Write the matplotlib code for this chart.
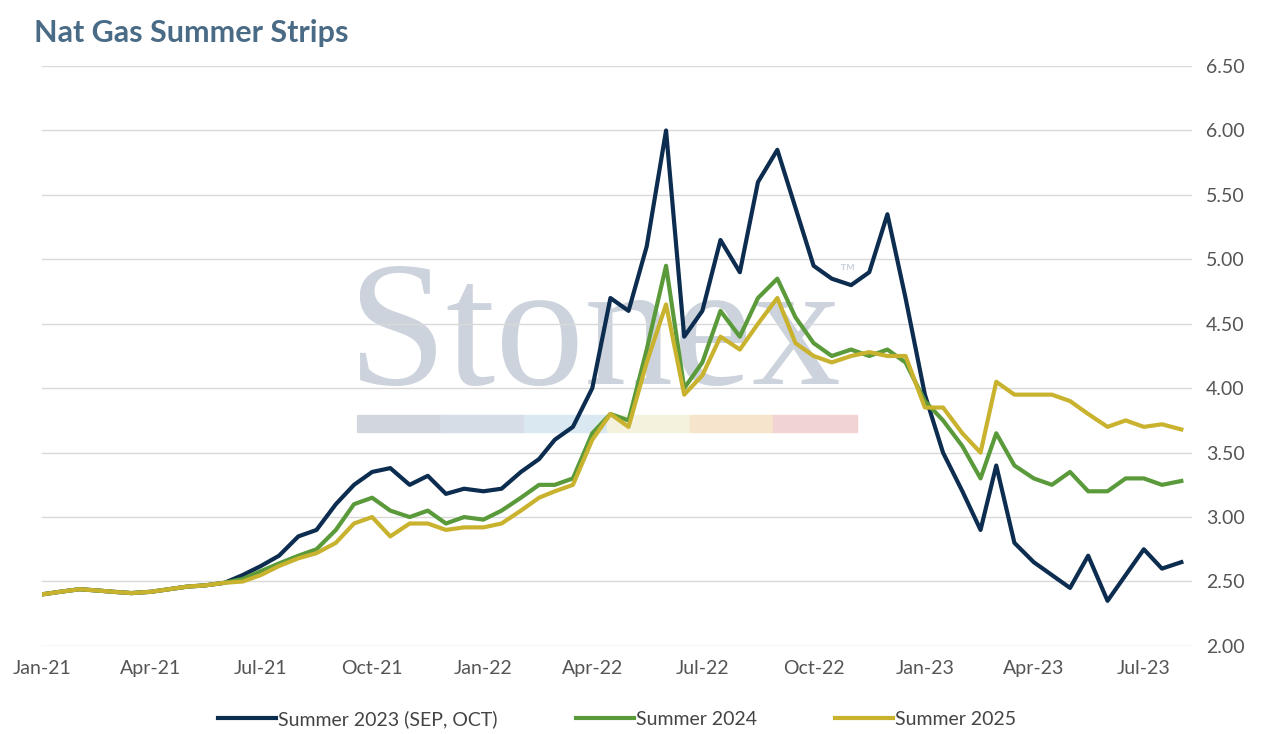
import numpy as np
import pandas as pd
import matplotlib.pyplot as plt
import matplotlib.dates as mdates

plt.rcParams['font.family'] = ['Lato', 'DejaVu Sans']

# semi-monthly sample dates, Jan-21 .. Aug-23
months = np.arange(0, 31.01, 0.5)
dates = [pd.Timestamp("2021-01-01") + pd.DateOffset(months=int(m)) + pd.Timedelta(days=15 if m % 1 else 0) for m in months]

early = [2.40, 2.42, 2.44, 2.43, 2.42, 2.41, 2.42, 2.44, 2.46, 2.47, 2.49]
s2023 = early + [2.55, 2.62, 2.70, 2.85, 2.90, 3.10, 3.25, 3.35, 3.38, 3.25, 3.32, 3.18, 3.22, 3.20, 3.22,
                 3.35, 3.45, 3.60, 3.70, 4.00, 4.70, 4.60, 5.10, 6.00, 4.40, 4.60, 5.15, 4.90, 5.60, 5.85, 5.40,
                 4.95, 4.85, 4.80, 4.90, 5.35, 4.70, 3.95, 3.50, 3.20, 2.90, 3.40, 2.80, 2.65, 2.55, 2.45, 2.70,
                 2.35, 2.55, 2.75, 2.60, 2.65]
s2024 = early + [2.52, 2.58, 2.64, 2.70, 2.75, 2.90, 3.10, 3.15, 3.05, 3.00, 3.05, 2.95, 3.00, 2.98, 3.05,
                 3.15, 3.25, 3.25, 3.30, 3.65, 3.80, 3.75, 4.30, 4.95, 4.00, 4.20, 4.60, 4.40, 4.70, 4.85, 4.55,
                 4.35, 4.25, 4.30, 4.25, 4.30, 4.20, 3.90, 3.75, 3.55, 3.30, 3.65, 3.40, 3.30, 3.25, 3.35, 3.20,
                 3.20, 3.30, 3.30, 3.25, 3.28]
s2025 = early + [2.50, 2.55, 2.62, 2.68, 2.72, 2.80, 2.95, 3.00, 2.85, 2.95, 2.95, 2.90, 2.92, 2.92, 2.95,
                 3.05, 3.15, 3.20, 3.25, 3.60, 3.80, 3.70, 4.20, 4.65, 3.95, 4.10, 4.40, 4.30, 4.50, 4.70, 4.35,
                 4.25, 4.20, 4.25, 4.28, 4.25, 4.25, 3.85, 3.85, 3.65, 3.50, 4.05, 3.95, 3.95, 3.95, 3.90, 3.80,
                 3.70, 3.75, 3.70, 3.72, 3.68]

navy, green, gold = "#0c2d4f", "#5a9a3a", "#c8b22e"

fig = plt.figure(figsize=(12.71, 7.34), dpi=100)
ax = fig.add_axes([0.033, 0.12, 0.905, 0.79])
ax.set_zorder(2)

# watermark
fig.text(0.467, 0.535, "Stonex", fontsize=128, family="Liberation Serif", color="#ccd3dc",
         ha="center", va="center", zorder=0)
fig.text(0.66, 0.62, "™", fontsize=15, color="#ccd3dc")
for i, c in enumerate(["#d2d7de", "#d6dde6", "#d9e8f1", "#f4f1dc", "#f6e5cc", "#f1d3d3"]):
    fig.patches.append(plt.Rectangle((0.281 + i * 0.0655, 0.411), 0.0655, 0.024,
                                     transform=fig.transFigure, color=c, zorder=0))

ax.plot(dates, s2023, color=navy, lw=3, label="Summer 2023 (SEP, OCT)")
ax.plot(dates, s2024, color=green, lw=3, label="Summer 2024")
ax.plot(dates, s2025, color=gold, lw=3, label="Summer 2025")

ax.set_ylim(2.0, 6.5)
ax.set_yticks(np.arange(2.0, 6.51, 0.5))
ax.yaxis.set_major_formatter(plt.FormatStrFormatter("%.2f"))
ax.yaxis.tick_right()
ax.set_xlim(pd.Timestamp("2021-01-01"), pd.Timestamp("2023-08-10"))
ax.xaxis.set_major_locator(mdates.MonthLocator(bymonth=[1, 4, 7, 10]))
ax.xaxis.set_major_formatter(mdates.DateFormatter("%b-%y"))
ax.grid(axis="y", color="#d9d9d9", lw=1)
ax.set_axisbelow(True)
ax.patch.set_alpha(0)
for s in ax.spines.values():
    s.set_visible(False)
ax.tick_params(length=0, labelsize=14, colors="#555555", pad=10)

ax.legend(loc="upper center", bbox_to_anchor=(0.5, -0.08), ncol=3, frameon=False,
          fontsize=14, handlelength=3, columnspacing=4, handletextpad=0.1, labelcolor="#444444")
fig.text(0.027, 0.955, "Nat Gas Summer Strips", fontsize=22, fontweight="bold", color="#4a6b86", va="center")

fig.savefig("out.png", dpi=100)
